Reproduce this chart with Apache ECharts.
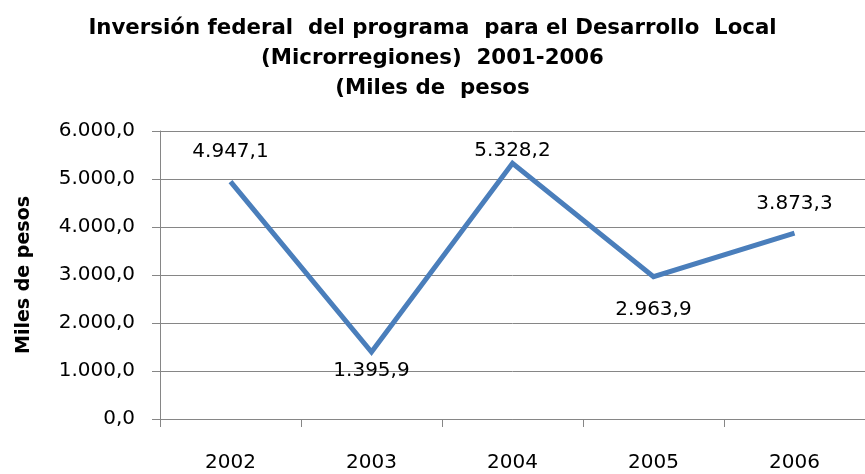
<!DOCTYPE html>
<html>
<head>
<meta charset="utf-8">
<script src="https://cdn.jsdelivr.net/npm/echarts@6/dist/echarts.min.js"></script>
<style>
  html, body { margin: 0; padding: 0; background: #fff; }
  #chart { width: 865px; height: 474px; }
</style>
</head>
<body>
<div id="chart"></div>
<script>
// Inversión federal por año (miles de pesos)
const years = ['2002', '2003', '2004', '2005', '2006'];
const inversion = [4947.1, 1395.9, 5328.2, 2963.9, 3873.3];
const yTicks = [0, 1000, 2000, 3000, 4000, 5000, 6000];

// label placement for each point: [position, distance]
const labelPlace = [['top', 19], ['bottom', 8], ['top', 1], ['bottom', 22], ['top', 18]];

// Spanish number format: 4.947,1
function fmt(v) {
  const parts = Number(v).toFixed(1).split('.');
  return parts[0].replace(/\B(?=(\d{3})+(?!\d))/g, '.') + ',' + parts[1];
}

const FONT = 'DejaVu Sans';
const GRAY = '#868686';

const chart = echarts.init(document.getElementById('chart'), null, { renderer: 'canvas' });
chart.setOption({
  animation: false,
  backgroundColor: '#ffffff',
  title: {
    text: 'Inversión federal  del programa  para el Desarrollo  Local\n(Microrregiones)  2001-2006\n(Miles de  pesos',
    left: 'center',
    top: 8,
    textStyle: {
      fontFamily: FONT,
      fontWeight: 'bold',
      fontSize: 21.3,
      lineHeight: 30,
      color: '#000'
    }
  },
  grid: {
    left: 160,
    top: 131,
    width: 715,
    height: 288,
    containLabel: false
  },
  xAxis: {
    type: 'category',
    data: years,
    boundaryGap: true,
    axisLine: { lineStyle: { color: GRAY, width: 1 } },
    axisTick: { show: true, interval: 0, length: 8, lineStyle: { color: GRAY } },
    axisLabel: {
      margin: 34,
      fontFamily: FONT,
      fontSize: 20,
      color: '#000',
      interval: 0
    },
    splitLine: { show: false }
  },
  yAxis: {
    type: 'value',
    min: yTicks[0],
    max: yTicks[yTicks.length - 1],
    interval: yTicks[1] - yTicks[0],
    name: 'Miles de pesos',
    nameLocation: 'middle',
    nameRotate: 90,
    nameGap: 126,
    nameTextStyle: {
      fontFamily: FONT,
      fontWeight: 'bold',
      fontSize: 19,
      color: '#000'
    },
    axisLine: { show: true, lineStyle: { color: GRAY, width: 1 } },
    axisTick: { show: true, length: 8, lineStyle: { color: GRAY } },
    axisLabel: {
      margin: 25,
      fontFamily: FONT,
      fontSize: 20,
      color: '#000',
      formatter: fmt
    },
    splitLine: { show: true, lineStyle: { color: GRAY, width: 1 } }
  },
  series: [{
    type: 'line',
    data: inversion.map((v, i) => ({
      value: v,
      label: { show: true, position: labelPlace[i][0], distance: labelPlace[i][1] }
    })),
    showSymbol: true,
    symbol: 'circle',
    symbolSize: 2,
    itemStyle: { color: 'rgba(0,0,0,0)', borderWidth: 0 },
    lineStyle: { color: '#4A7EBB', width: 5, join: 'miter', cap: 'butt' },
    label: {
      show: true,
      fontFamily: FONT,
      fontSize: 20,
      color: '#000',
      formatter: p => fmt(p.value)
    },
    z: 3
  }]
});
</script>
</body>
</html>
